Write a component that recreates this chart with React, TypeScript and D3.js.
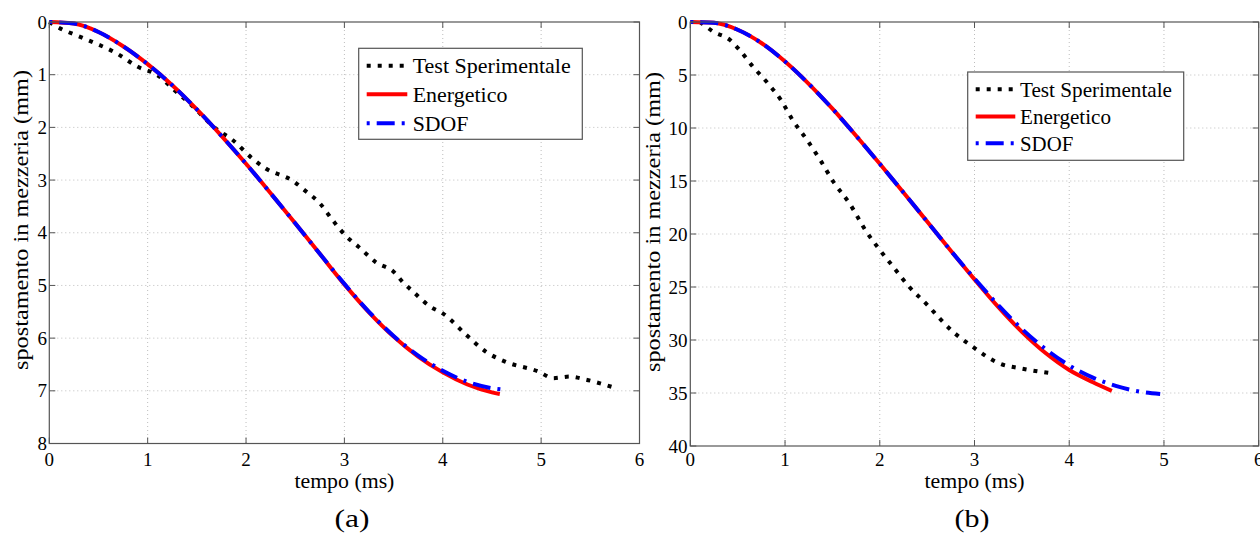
import React from "react";
import * as d3 from "d3";

// ---------- DATA ----------
const timeTicks = [0, 1, 2, 3, 4, 5, 6];
const dispTicksA = [0, 1, 2, 3, 4, 5, 6, 7, 8];
const dispTicksB = [0, 5, 10, 15, 20, 25, 30, 35, 40];
const seriesNames = ["Test Sperimentale", "Energetico", "SDOF"];
const panelLabels = ["(a)", "(b)"];
const xAxisTitle = "tempo (ms)";
const yAxisTitle = "spostamento in mezzeria (mm)";

// Panel (a)
const testA: [number, number][] = [
  [0, 0], [0.05, 0.06], [0.35, 0.31], [0.68, 0.59], [0.9, 0.85], [1.1, 1.01],
  [1.27, 1.29], [1.47, 1.62], [1.67, 1.99], [1.87, 2.25], [2.07, 2.6], [2.2, 2.78],
  [2.48, 3.02], [2.6, 3.2], [2.75, 3.44], [2.88, 3.76], [3.02, 4.07], [3.14, 4.26],
  [3.32, 4.56], [3.5, 4.74], [3.6, 4.95], [3.7, 5.12], [3.87, 5.4], [4.0, 5.53],
  [4.24, 5.94], [4.44, 6.26], [4.64, 6.45], [4.98, 6.64], [5.12, 6.76], [5.29, 6.73],
  [5.46, 6.79], [5.76, 6.95],
];
const energA: [number, number][] = [
  [0, 0], [0.25, 0.03], [0.5, 0.19], [0.75, 0.46], [1.0, 0.8], [1.25, 1.2],
  [1.5, 1.66], [1.75, 2.16], [2.0, 2.69], [2.25, 3.25], [2.5, 3.82], [2.75, 4.4],
  [3.0, 4.98], [3.25, 5.51], [3.5, 5.97], [3.75, 6.35], [4.0, 6.65], [4.25, 6.88],
  [4.5, 7.03], [4.58, 7.06],
];
const sdofA: [number, number][] = [
  [0, 0], [0.25, 0.03], [0.5, 0.19], [0.75, 0.46], [1.0, 0.8], [1.25, 1.2],
  [1.5, 1.66], [1.75, 2.16], [2.0, 2.69], [2.25, 3.25], [2.5, 3.82], [2.75, 4.4],
  [3.0, 4.97], [3.25, 5.5], [3.5, 5.96], [3.75, 6.33], [4.0, 6.62], [4.25, 6.83],
  [4.5, 6.95], [4.64, 6.98],
];

// Panel (b)
const testB: [number, number][] = [
  [0.1, 0], [0.12, 0.12], [0.24, 0.9], [0.42, 1.7], [0.52, 2.64], [0.66, 4.2],
  [0.82, 5.8], [0.96, 7.4], [1.08, 9.25], [1.23, 11.1], [1.37, 13.0], [1.51, 15.07],
  [1.68, 17.1], [1.86, 19.8], [2.0, 21.5], [2.14, 23.08], [2.31, 24.97], [2.52, 26.86],
  [2.63, 27.95], [2.77, 29.2], [2.98, 30.63], [3.26, 32.2], [3.5, 32.7], [3.78, 33.1],
];
const energB: [number, number][] = [
  [0, 0], [0.25, 0.08], [0.5, 0.73], [0.75, 1.98], [1.0, 3.73], [1.25, 5.83],
  [1.5, 8.18], [1.75, 10.73], [2.0, 13.38], [2.25, 16.08], [2.5, 18.83], [2.75, 21.58],
  [3.0, 24.28], [3.25, 26.88], [3.5, 29.23], [3.75, 31.23], [4.0, 32.83], [4.25, 33.98],
  [4.45, 34.8],
];
const sdofB: [number, number][] = [
  [0, 0], [0.25, 0.08], [0.5, 0.73], [0.75, 1.98], [1.0, 3.73], [1.25, 5.83],
  [1.5, 8.18], [1.75, 10.73], [2.0, 13.38], [2.25, 16.08], [2.5, 18.83], [2.75, 21.58],
  [3.0, 24.2], [3.25, 26.7], [3.5, 28.95], [3.75, 30.85], [4.0, 32.4], [4.25, 33.55],
  [4.5, 34.35], [4.75, 34.88], [4.96, 35.1],
];

// ---------- STYLE ----------
const FONT = "'Liberation Serif', 'Times New Roman', serif";
const FRAME = "#555";
const GRID = "#bdbdbd";
const seriesStyles = [
  { color: "#000", width: 4, dash: "4 7" },
  { color: "#ff0000", width: 4, dash: "none" },
  { color: "#0000ff", width: 4, dash: "3 7 18 7" },
];

type Panel = {
  left: number; right: number; top: number; bottom: number;
  yMax: number; yTicks: number[]; series: [number, number][][];
  legend: { x0: number; x1: number; y0: number; y1: number; lineX0: number; lineX1: number; textX: number; baselines: number[]; fs: number; lens: number[] };
  ylabelX: number; ylabelY: number; tickEnd: number; label: string; labelX: number;
};

const panels: Panel[] = [
  {
    left: 49.3, right: 639.5, top: 22, bottom: 443.5, yMax: 8, yTicks: dispTicksA,
    series: [testA, energA, sdofA],
    legend: { x0: 358.7, x1: 582.3, y0: 48.3, y1: 139.3, lineX0: 366.7, lineX1: 407.3, textX: 412.7, baselines: [73.3, 101.7, 130.7], fs: 22, lens: [158, 94.7, 55.7] },
    ylabelX: 28, ylabelY: 220, tickEnd: 47, label: panelLabels[0], labelX: 352,
  },
  {
    left: 690.3, right: 1258.7, top: 22, bottom: 446, yMax: 40, yTicks: dispTicksB,
    series: [testB, energB, sdofB],
    legend: { x0: 967.7, x1: 1183.7, y0: 72, y1: 160.3, lineX0: 975.7, lineX1: 1015.3, textX: 1020, baselines: [96.7, 124, 150.7], fs: 21, lens: [152, 91, 53.3] },
    ylabelX: 660, ylabelY: 222, tickEnd: 687.5, label: panelLabels[1], labelX: 972,
  },
];

function PanelView({ p }: { p: Panel }) {
  const x = d3.scaleLinear().domain([0, 6]).range([p.left, p.right]);
  const y = d3.scaleLinear().domain([0, p.yMax]).range([p.top, p.bottom]);
  const line = d3.line<[number, number]>().x(d => x(d[0])).y(d => y(d[1])).curve(d3.curveMonotoneX);
  const tickLen = 6;
  const cx = (p.left + p.right) / 2;
  return (
    <g>
      {/* grid */}
      {timeTicks.slice(1, -1).map(t => (
        <line key={"gx" + t} x1={x(t)} x2={x(t)} y1={p.top} y2={p.bottom} stroke={GRID} strokeWidth={1} strokeDasharray="1 3" />
      ))}
      {p.yTicks.slice(1, -1).map(t => (
        <line key={"gy" + t} x1={p.left} x2={p.right} y1={y(t)} y2={y(t)} stroke={GRID} strokeWidth={1} strokeDasharray="1 3" />
      ))}
      {/* series */}
      {p.series.map((s, i) => (
        <path key={"s" + i} d={line(s) || ""} fill="none" stroke={seriesStyles[i].color}
          strokeWidth={seriesStyles[i].width} strokeDasharray={seriesStyles[i].dash}
          strokeLinecap="butt" strokeLinejoin="round" />
      ))}
      {/* frame */}
      <rect x={p.left} y={p.top} width={p.right - p.left} height={p.bottom - p.top} fill="none" stroke={FRAME} strokeWidth={1.2} />
      {timeTicks.map(t => (
        <g key={"tx" + t}>
          <line x1={x(t)} x2={x(t)} y1={p.bottom} y2={p.bottom - tickLen} stroke={FRAME} />
          <line x1={x(t)} x2={x(t)} y1={p.top} y2={p.top + tickLen} stroke={FRAME} />
          <text x={x(t)} y={466} textAnchor="middle" fontFamily={FONT} fontSize={19} fill="#000">{t}</text>
        </g>
      ))}
      {p.yTicks.map(t => (
        <g key={"ty" + t}>
          <line x1={p.left} x2={p.left + tickLen} y1={y(t)} y2={y(t)} stroke={FRAME} />
          <line x1={p.right} x2={p.right - tickLen} y1={y(t)} y2={y(t)} stroke={FRAME} />
          <text x={p.tickEnd} y={y(t) + 6.5} textAnchor="end" fontFamily={FONT} fontSize={19} fill="#000">{t}</text>
        </g>
      ))}
      {/* axis titles */}
      <text x={cx} y={488} textAnchor="middle" fontFamily={FONT} fontSize={20} textLength={100} lengthAdjust="spacingAndGlyphs">{xAxisTitle}</text>
      <text transform={`translate(${p.ylabelX},${p.ylabelY}) rotate(-90)`} textAnchor="middle" fontFamily={FONT} fontSize={21} textLength={300} lengthAdjust="spacingAndGlyphs">{yAxisTitle}</text>
      <text x={p.labelX} y={527} textAnchor="middle" fontFamily={FONT} fontSize={25} textLength={35} lengthAdjust="spacingAndGlyphs">{p.label}</text>
      {/* legend */}
      <rect x={p.legend.x0} y={p.legend.y0} width={p.legend.x1 - p.legend.x0} height={p.legend.y1 - p.legend.y0} fill="#fff" stroke={FRAME} strokeWidth={1.2} />
      {seriesNames.map((n, i) => (
        <g key={"lg" + i}>
          <line x1={p.legend.lineX0} x2={p.legend.lineX1} y1={p.legend.baselines[i] - 7.5} y2={p.legend.baselines[i] - 7.5}
            stroke={seriesStyles[i].color} strokeWidth={seriesStyles[i].width} strokeDasharray={seriesStyles[i].dash} />
          <text x={p.legend.textX} y={p.legend.baselines[i]} fontFamily={FONT} fontSize={p.legend.fs}
            textLength={p.legend.lens[i]} lengthAdjust="spacingAndGlyphs">{n}</text>
        </g>
      ))}
    </g>
  );
}

export default function App() {
  return (
    <svg width={1260} height={534} viewBox="0 0 1260 534"
      style={{ position: "absolute", left: 0, top: 0, background: "#fff", overflow: "hidden" }}>
      <rect x={0} y={0} width={1260} height={534} fill="#fff" />
      {panels.map((p, i) => <PanelView key={i} p={p} />)}
    </svg>
  );
}
